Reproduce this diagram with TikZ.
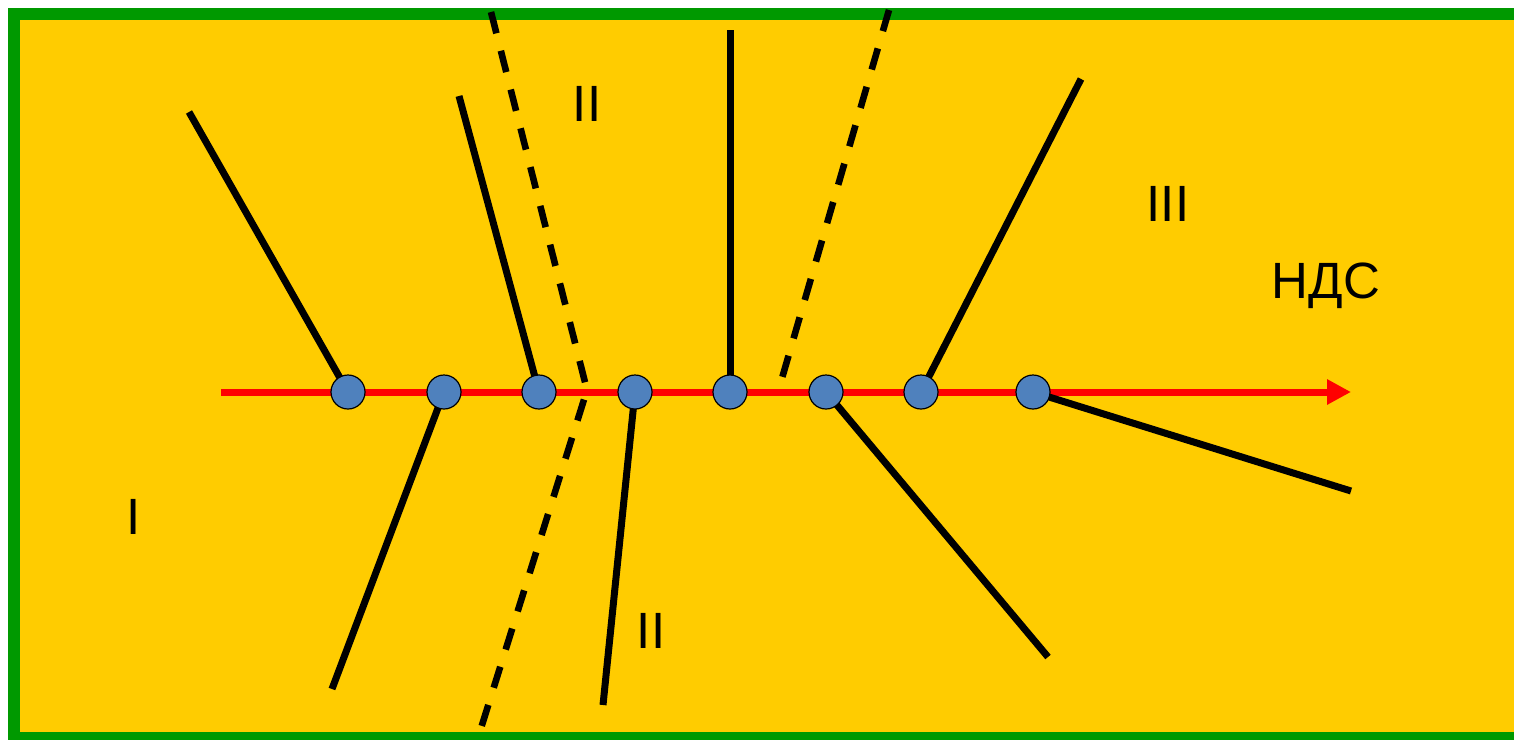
\documentclass[tikz,border=0pt]{standalone}
\usepackage{fontspec}
\setmainfont{Liberation Sans}
\usetikzlibrary{arrows.meta}
\definecolor{bggreen}{HTML}{009900}
\definecolor{bgyellow}{HTML}{FFCC00}
\definecolor{dotblue}{HTML}{4F81BD}
\begin{document}
\begin{tikzpicture}[x=0.5pt,y=-0.5pt,
  dot/.style={circle,draw=black,line width=0.6pt,fill=dotblue,minimum size=17pt,inner sep=0pt},
  branch/.style={line width=3.5pt,black},
  bound/.style={line width=3.3pt,black,dash pattern=on 11pt off 9pt},
  axis/.style={line width=3.5pt,red,-{Triangle[length=12pt,width=12pt]}},
  lbl/.style={inner sep=0pt,font=\fontsize{25.5}{30}\selectfont}]
\useasboundingbox (0,0) rectangle (1514,739);
\clip (0,0) rectangle (1514,739);
\fill[white] (0,0) rectangle (1514,739);
\draw[bggreen,fill=bgyellow,line width=6pt] (14,14) rectangle (1530,738);
% coordinates
\coordinate (rs) at (221,392);
\coordinate (re) at (1351,392);
\coordinate (e1) at (189,112);
\coordinate (e2) at (332,689);
\coordinate (e3) at (459,96);
\coordinate (e4) at (603,705);
\coordinate (e5) at (730,30);
\coordinate (e6) at (1048,657);
\coordinate (e7) at (1081,79);
\coordinate (e8) at (1351,491);
\coordinate (d1a) at (491,12);
\coordinate (d1b) at (587,390);
\coordinate (d1c) at (477,741);
\coordinate (d2a) at (889,10);
\coordinate (d2b) at (778,392);
% axis
\draw[axis] (rs) -- (re);
% node positions
\path (348,392) coordinate (p1) (444,392) coordinate (p2) (539,392) coordinate (p3)
      (635,392) coordinate (p4) (730,392) coordinate (p5) (826,392) coordinate (p6)
      (921,392) coordinate (p7) (1033,392) coordinate (p8);
% branches
\draw[branch] (p1) -- (e1);
\draw[branch] (p2) -- (e2);
\draw[branch] (p3) -- (e3);
\draw[branch] (p4) -- (e4);
\draw[branch] (p5) -- (e5);
\draw[branch] (p6) -- (e6);
\draw[branch] (p7) -- (e7);
\draw[branch] (p8) -- (e8);
% boundaries
\draw[bound] (d1a) -- (d1b) -- (d1c);
\draw[bound] (d2a) -- (d2b);
% dots
\foreach \i in {1,...,8} \node[dot] (n\i) at (p\i) {};
% labels
\node[lbl] (l1) at (587,104) {II};
\node[lbl] (l2) at (651,631) {II};
\node[lbl] (l3) at (1168,204) {III};
\node[lbl] (l4) at (1326,286) {НДС};
\node[lbl] (l5) at (134,517) {I};
\end{tikzpicture}
\end{document}
